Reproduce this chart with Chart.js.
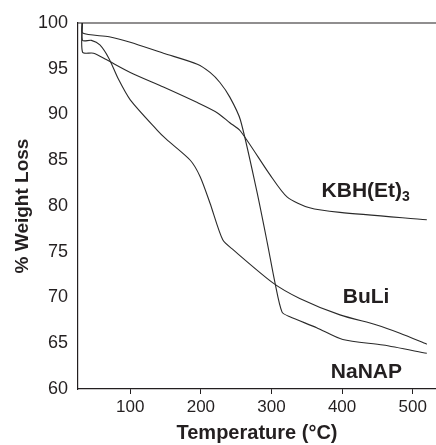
<!DOCTYPE html>
<html>
<head>
<meta charset="utf-8">
<script src="https://cdn.jsdelivr.net/npm/chart.js@4/dist/chart.umd.min.js"></script>
<style>
  html, body { margin: 0; padding: 0; background: #fff; }
  #wrap { width: 436px; height: 445px; position: relative; }
</style>
</head>
<body>
<div id="wrap"><canvas id="tga"></canvas></div>
<script>
// TGA traces: temperature (°C) and % weight remaining
const NANAP_T = [32, 32.5, 70, 100, 147, 195, 213, 227, 241, 256, 279, 294, 305, 315, 326, 364, 401, 458, 520];
const NANAP_W = [100, 98.9, 98.5, 97.9, 96.7, 95.5, 94.6, 93.5, 91.9, 89.4, 81.7, 76.0, 71.6, 68.4, 67.9, 66.7, 65.4, 64.8, 63.9];

const BULI_T = [32, 32.5, 45, 57, 70, 83, 100, 138, 151, 185, 199, 213, 231, 246, 302, 340, 397, 449, 482, 520];
const BULI_W = [100, 98.1, 98.1, 97.6, 96.1, 93.9, 91.6, 88.3, 87.3, 85.0, 83.2, 80.3, 76.3, 75.2, 71.6, 69.9, 68.1, 67.0, 66.1, 64.9];

const KBH_T = [32, 32.5, 48, 66, 100, 147, 195, 223, 241, 256, 298, 322, 354, 397, 520];
const KBH_W = [100, 96.8, 96.7, 96.0, 94.6, 93.0, 91.3, 90.2, 89.1, 88.2, 83.4, 81.0, 79.8, 79.3, 78.5];

const X_TICKS = [100, 200, 300, 400, 500];
const Y_TICKS = [60, 65, 70, 75, 80, 85, 90, 95, 100];

// curve labels, anchored in data units (left edge, baseline)
const LABELS = [
  { text: "KBH(Et)", sub: "3", t: 371, w: 81.0 },
  { text: "BuLi", sub: "", t: 401, w: 69.4 },
  { text: "NaNAP", sub: "", t: 384, w: 61.2 },
];

const FONT = '"Liberation Sans", Arial, Helvetica, sans-serif';
const INK = "#231f20";

function zip(ts, ws) {
  return ts.map((t, i) => ({ x: t, y: ws[i] }));
}

function trace(label, ts, ws) {
  return {
    label,
    data: zip(ts, ws),
    borderColor: "#2a2a2a",
    borderWidth: 1.1,
    pointRadius: 0,
    fill: false,
    tension: 0.25,
  };
}

const frame = {
  id: "frame",
  afterDraw(chart) {
    const { ctx, chartArea: a } = chart;
    ctx.save();
    ctx.strokeStyle = INK;
    ctx.lineWidth = 1.2;
    ctx.beginPath();
    ctx.moveTo(a.left, a.top);
    ctx.lineTo(a.right, a.top);
    ctx.stroke();
    ctx.restore();
  },
};

const curveLabels = {
  id: "curveLabels",
  afterDatasetsDraw(chart) {
    const { ctx, scales } = chart;
    ctx.save();
    ctx.fillStyle = INK;
    ctx.textAlign = "left";
    ctx.textBaseline = "alphabetic";
    LABELS.forEach((l) => {
      const px = scales.x.getPixelForValue(l.t);
      const py = scales.y.getPixelForValue(l.w);
      ctx.font = `bold 21px ${FONT}`;
      ctx.fillText(l.text, px, py);
      if (l.sub) {
        const w = ctx.measureText(l.text).width;
        ctx.font = `bold 14px ${FONT}`;
        ctx.fillText(l.sub, px + w, py + 4);
      }
    });
    ctx.restore();
  },
};

new Chart(document.getElementById("tga"), {
  type: "line",
  data: {
    datasets: [
      trace("NaNAP", NANAP_T, NANAP_W),
      trace("BuLi", BULI_T, BULI_W),
      trace("KBH(Et)3", KBH_T, KBH_W),
    ],
  },
  options: {
    responsive: true,
    maintainAspectRatio: false,
    animation: false,
    layout: { padding: { top: 23, right: 0, bottom: 0, left: 0 } },
    plugins: { legend: { display: false }, tooltip: { enabled: false } },
    scales: {
      x: {
        type: "linear",
        min: 26,
        max: 533,
        afterBuildTicks: (s) => { s.ticks = X_TICKS.map((v) => ({ value: v })); },
        afterFit: (s) => { s.height = 56; },
        grid: { drawOnChartArea: false, drawTicks: true, tickLength: 5, color: INK, lineWidth: 1 },
        border: { display: true, color: INK, width: 1.2 },
        ticks: { color: INK, font: { family: FONT, size: 17 }, padding: 3, maxRotation: 0 },
        title: {
          display: true,
          text: "Temperature (°C)",
          color: INK,
          font: { family: FONT, size: 20, weight: "bold" },
          padding: { top: 0, bottom: 0 },
        },
      },
      y: {
        type: "linear",
        min: 60,
        max: 100,
        afterBuildTicks: (s) => { s.ticks = Y_TICKS.map((v) => ({ value: v })); },
        afterFit: (s) => { s.width = 78; },
        grid: { drawOnChartArea: false, drawTicks: false },
        border: { display: true, color: INK, width: 1.2 },
        ticks: { color: INK, font: { family: FONT, size: 18 }, padding: 10 },
        title: {
          display: true,
          text: "% Weight Loss",
          color: INK,
          font: { family: FONT, size: 19, weight: "bold" },
          padding: { top: 11, bottom: 0 },
        },
      },
    },
  },
  plugins: [frame, curveLabels],
});
</script>
</body>
</html>
